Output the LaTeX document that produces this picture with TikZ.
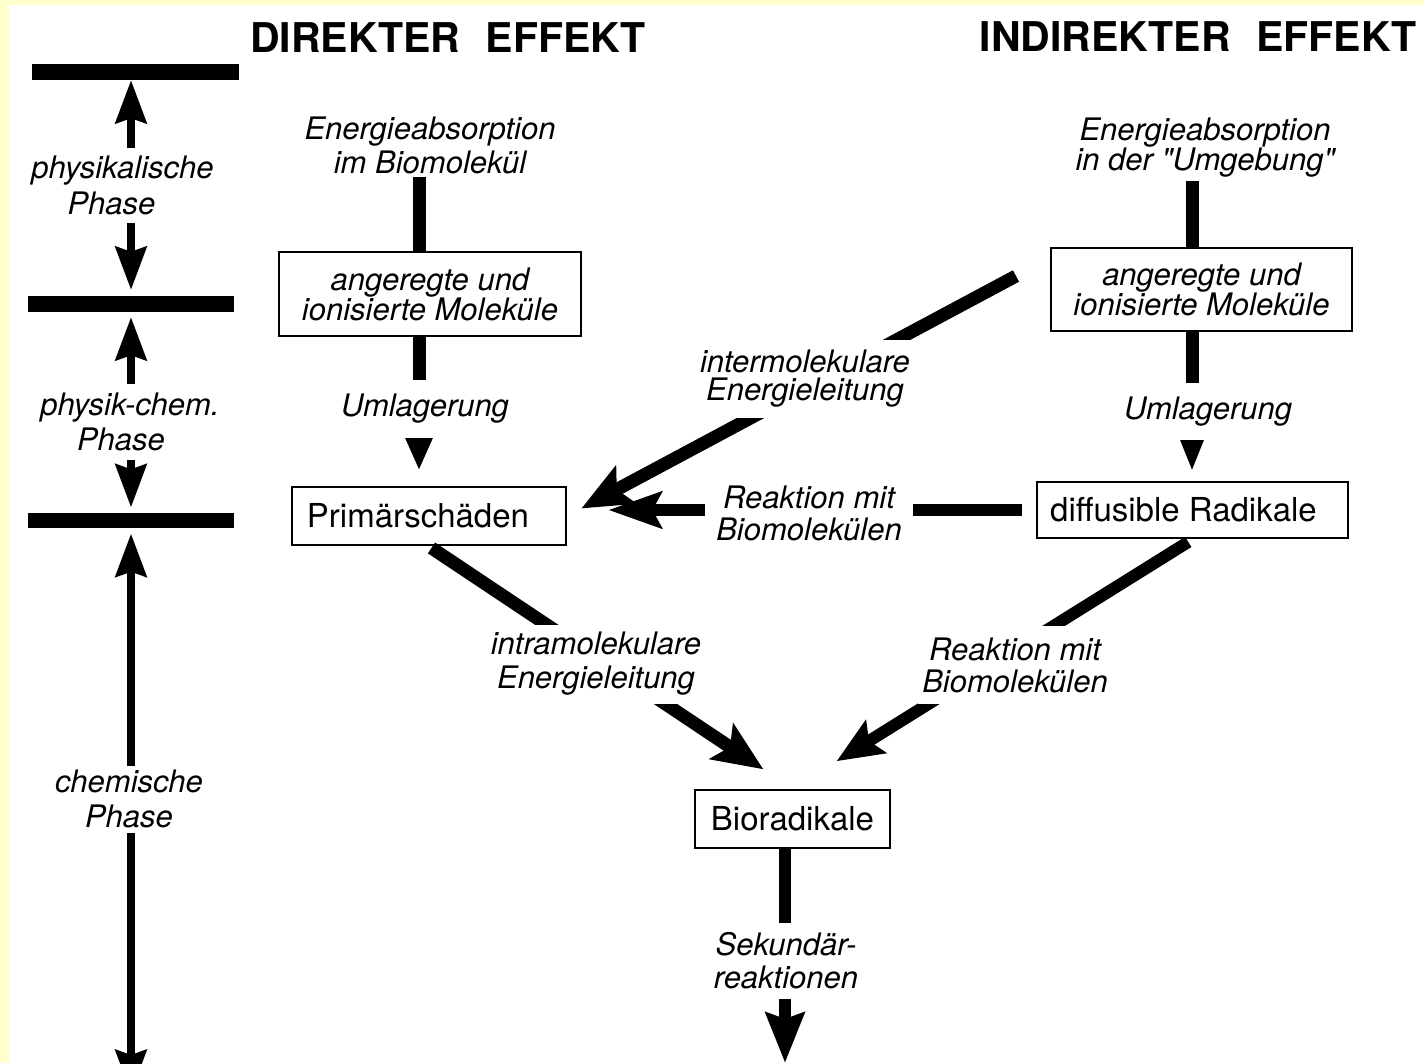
\documentclass[tikz,border=0pt]{standalone}
\usepackage{fontspec}
\setmainfont{TeX Gyre Heros}[Ligatures=TeXOff]
\usetikzlibrary{arrows.meta,calc}
\definecolor{paleyellow}{RGB}{255,255,204}
\begin{document}
\begin{tikzpicture}[x=1pt,y=-1pt,
  it/.style={font=\fontsize{31}{34}\selectfont\itshape, align=center, inner sep=0pt},
  lbl/.style={it, fill=white},
  box/.style={draw, line width=2.6pt, inner sep=0pt},
  boxtxt/.style={font=\fontsize{33}{36}\selectfont},
  phasebar/.style={fill=black, inner sep=0pt},
  heading/.style={font=\fontsize{41}{44}\selectfont\bfseries, inner sep=0pt},
  bar/.style={line width=13pt},
  big/.style={line width=13pt, -{Stealth[length=50pt,width=42pt,inset=10pt]}},
  bigh/.style={line width=12pt, -{Stealth[length=53pt,width=36pt,inset=9pt]}},
  bigs/.style={line width=12pt, -{Stealth[length=46pt,width=38pt,inset=8pt]}},
  triD/.style={line width=13pt, -{Triangle[length=34pt,width=26pt]}},
  triI/.style={line width=13pt, -{Triangle[length=33pt,width=22pt]}},
  phase/.style={line width=7.5pt, {Stealth[length=43pt,width=31pt,inset=5pt]}-{Stealth[length=43pt,width=31pt,inset=5pt]}},
]
\useasboundingbox (0,0) rectangle (1424,1063);
\fill[paleyellow] (0,0) rectangle (1424,1063);
\fill[white] (9,5) rectangle (1424,1063);
\clip (0,0) rectangle (1424,1063);

% helper coordinates
\coordinate (colD) at (419,0);
\coordinate (colI) at (1192,0);
\coordinate (colB) at (785,0);
\coordinate (interS) at (1016,276);
\coordinate (sekEnd) at (785,1063);
\coordinate (chemEnd) at (131,1093);

% headings
\node[heading] (hD) at (448,38) {DIREKTER\hspace{0.62em}EFFEKT};
\node[heading] (hI) at (1198,37) {INDIREKTER\hspace{0.62em}EFFEKT};

% phase bars
\node[phasebar, minimum width=207pt, minimum height=16pt] (bar1) at (135.5,72) {};
\node[phasebar, minimum width=206pt, minimum height=16pt] (bar2) at (131,304) {};
\node[phasebar, minimum width=206pt, minimum height=15pt] (bar3) at (131,520) {};

% top labels
\node[it, inner sep=3pt] (eaD) at (430,145) {Energieabsorption\\im Biomolekül};
\node[it, inner sep=3pt, font=\fontsize{31}{30}\selectfont\itshape] (eaI) at (1205,148) {Energieabsorption\\in der "Umgebung"};

% boxes
\node[box, it, font=\fontsize{31}{30}\selectfont\itshape, minimum width=302pt, minimum height=84pt] (boxD) at (430,294) {angeregte und\\ionisierte Moleküle};
\node[box, it, font=\fontsize{31}{30}\selectfont\itshape, minimum width=301pt, minimum height=83pt] (boxI) at (1201.5,289.5) {angeregte und\\ionisierte Moleküle};
\node[box, boxtxt, minimum width=274pt, minimum height=58pt] (prim) at (429,516) {Primärschäden\hspace*{22pt}};
\node[box, boxtxt, minimum width=311pt, minimum height=56pt] (diff) at (1192.5,510) {diffusible Radikale\hspace*{18pt}};
\node[box, boxtxt, minimum width=195pt, minimum height=58pt] (bio) at (792.5,819) {Bioradikale};

% connectors
\draw[bar] (eaD.south -| colD) -- (boxD.north -| colD);
\draw[triD, shorten >=15pt] (boxD.south -| colD) -- (prim.north -| colD);
\draw[bar] (eaI.south -| colI) -- (boxI.north -| colI);
\draw[triI, shorten >=9pt] (boxI.south -| colI) -- (diff.north -| colI);
\draw[big, shorten >=16pt] (interS) -- (prim.east);
\draw[bigh, shorten <=14pt, shorten >=41pt] (diff.west) -- (diff.west -| prim.east);
\draw[big, shorten <=3pt, shorten >=35pt] (prim.south) -- (bio.north);
\draw[bigs, shorten <=5pt, shorten >=52pt] (diff.south) -- (bio.north);
\draw[line width=12pt, -{Stealth[length=50pt,width=38pt,inset=6pt]}] (bio.south -| colB) -- (sekEnd);

\draw[phase, shorten >=6pt] (bar1.south -| bar2) -- (bar2.north);
\draw[phase, shorten <=5pt, shorten >=5pt] (bar2.south) -- (bar3.north);
\draw[phase, shorten <=6pt] (bar3.south) -- (chemEnd);

% labels on connectors (white, cut the lines)
\node[lbl, font=\fontsize{31}{36}\selectfont\itshape, minimum height=75pt] (ph1) at (122.5,185) {physikalische\\Phase\hspace*{22pt}};
\node[lbl, font=\fontsize{31}{35}\selectfont\itshape, minimum height=76pt] (ph2) at (130,422) {physik-chem.\\Phase\hspace*{18pt}};
\node[lbl, font=\fontsize{31}{35}\selectfont\itshape, minimum height=67pt] (ph3) at (129,799) {chemische\\Phase};

\node[lbl, minimum height=58pt] (umD) at (425,409) {\raisebox{-3pt}{Umlagerung}};
\node[lbl, minimum height=57pt] (umI) at (1208,411.5) {\raisebox{-2pt}{Umlagerung}};
\node[lbl, font=\fontsize{31}{28}\selectfont\itshape, minimum height=78pt, inner xsep=3pt] (inter) at (805,379) {intermolekulare\\Energieleitung};
\node[lbl, font=\fontsize{31}{32}\selectfont\itshape, minimum width=208pt] (reakH) at (809,513) {Reaktion mit\\Biomolekülen};
\node[lbl, minimum height=79pt, inner xsep=3pt] (intra) at (596,664) {intramolekulare\\Energieleitung};
\node[lbl, font=\fontsize{31}{32}\selectfont\itshape, minimum height=78pt, inner xsep=4pt] (reakD) at (1015,665) {Reaktion mit\\Biomolekülen};
\node[lbl, font=\fontsize{31}{33}\selectfont\itshape, minimum height=76pt] (sek) at (786,961) {Sekundär-\\reaktionen};
\end{tikzpicture}
\end{document}
